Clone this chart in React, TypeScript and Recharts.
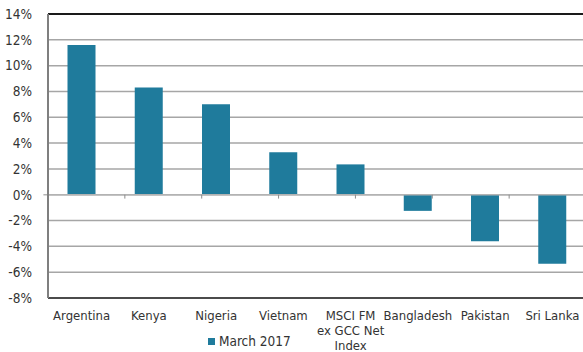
import React from "react";
import {
  BarChart,
  Bar,
  XAxis,
  YAxis,
  CartesianGrid,
  ReferenceLine,
} from "recharts";

// Category labels; "\n" marks where a long label breaks onto a new line.
const categories = [
  "Argentina",
  "Kenya",
  "Nigeria",
  "Vietnam",
  "MSCI FM\nex GCC Net\nIndex",
  "Bangladesh",
  "Pakistan",
  "Sri Lanka",
];
const march2017 = [11.6, 8.3, 7.0, 3.3, 2.35, -1.25, -3.6, -5.35];
const yTicks = [-8, -6, -4, -2, 0, 2, 4, 6, 8, 10, 12, 14];
const seriesName = "March 2017";

const data = categories.map((name, i) => ({ name, value: march2017[i] }));
const boundaries = categories.slice(1).map((_, i) => i + 1);

const FONT = "'Liberation Sans Narrow', 'Arial Narrow', 'DejaVu Sans Condensed', sans-serif";
const BAR = "#1f7b9c";
const TEXT = "#333333";

const CategoryTick = (props: any) => {
  const { x, y, payload } = props;
  const lines = String(payload.value).split("\n");
  return (
    <text
      x={x}
      y={y + 14}
      textAnchor="middle"
      fontSize={13}
      fontFamily={FONT}
      fill={TEXT}
    >
      {lines.map((line, i) => (
        <tspan key={i} x={x} dy={i === 0 ? 0 : 15.2}>
          {line}
        </tspan>
      ))}
    </text>
  );
};

export default function App() {
  return (
    <div
      style={{
        position: "absolute",
        left: 0,
        top: 0,
        width: 583,
        height: 352,
        overflow: "hidden",
        background: "#fff",
      }}
    >
      <BarChart
        width={600}
        height={352}
        data={data}
        margin={{ top: 14, right: 14, bottom: 0, left: 0 }}
        barCategoryGap="29%"
      >
        <CartesianGrid vertical={false} stroke="#a6a6a6" strokeWidth={1.5} />
        <XAxis
          dataKey="name"
          interval={0}
          height={54}
          tickLine={false}
          axisLine={{ stroke: "#262626", strokeWidth: 1.5 }}
          tick={<CategoryTick />}
        />
        <XAxis xAxisId="edges" type="number" domain={[0, 8]} hide />
        <YAxis
          width={48}
          domain={[-8, 14]}
          ticks={yTicks}
          interval={0}
          tickFormatter={(v: number) => `${v}%`}
          tickLine={false}
          axisLine={{ stroke: "#7f7f7f", strokeWidth: 2 }}
          tick={{ fontSize: 13.5, fontFamily: FONT, fill: TEXT }}
          tickMargin={10}
        />
        <ReferenceLine y={14} stroke="#1a1a1a" strokeWidth={2} />
        <ReferenceLine
          xAxisId="edges"
          segment={[
            { x: -0.06, y: 0 },
            { x: 8, y: 0 },
          ]}
          stroke="#b3b3b3"
          strokeWidth={1.5}
          ifOverflow="visible"
        />
        {boundaries.map((b) => (
          <ReferenceLine
            key={b}
            xAxisId="edges"
            segment={[
              { x: b, y: 0 },
              { x: b, y: -0.3 },
            ]}
            stroke="#8c8c8c"
            strokeWidth={1}
          />
        ))}
        <Bar dataKey="value" name={seriesName} fill={BAR} isAnimationActive={false} />
      </BarChart>
      <div
        style={{
          position: "absolute",
          left: 208,
          top: 333,
          display: "flex",
          alignItems: "center",
          fontFamily: FONT,
          fontSize: 13.5,
          color: TEXT,
          lineHeight: "16px",
        }}
      >
        <span
          style={{
            display: "inline-block",
            width: 7,
            height: 7,
            background: BAR,
            marginRight: 4,
          }}
        />
        <span>{seriesName}</span>
      </div>
    </div>
  );
}
